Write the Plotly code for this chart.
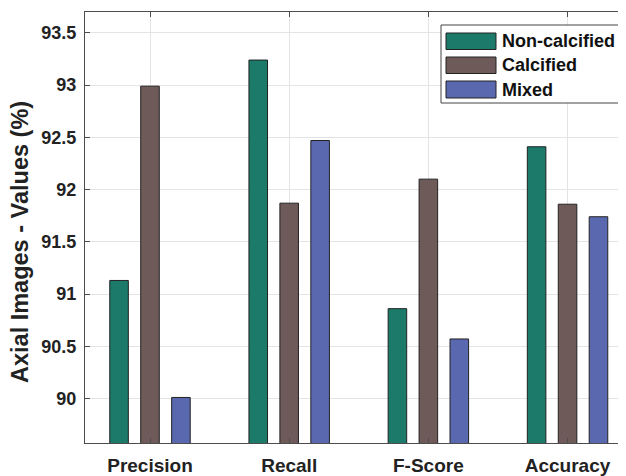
import plotly.graph_objects as go

categories = ["Precision", "Recall", "F-Score", "Accuracy"]
non_calcified = [91.13, 93.24, 90.86, 92.41]
calcified = [92.99, 91.87, 92.10, 91.86]
mixed = [90.01, 92.47, 90.57, 91.74]
series_names = ["Non-calcified", "Calcified", "Mixed"]
series_values = [non_calcified, calcified, mixed]
colors = ["#1b7a6a", "#6e5a58", "#5a68b0"]
y_ticks = [90, 90.5, 91, 91.5, 92, 92.5, 93, 93.5]
y_tick_labels = ["90", "90.5", "91", "91.5", "92", "92.5", "93", "93.5"]

# page is 626x476; the html body has an 8px margin
OFF = 8
W, H = 626 - OFF, 476 - OFF
# plot area in page pixels: x 85..626, y 12..443
L, R, T, B = 85 - OFF, 0, 12 - OFF, 476 - 443
PW, PH = W - L - R, H - T - B


def px(x):  # page pixel -> paper
    return (x - OFF - L) / PW


def py(y):
    return (H - B - (y - OFF)) / PH


FONT = "Arial, Liberation Sans, Helvetica, sans-serif"

fig = go.Figure()
for name, vals, c in zip(series_names, series_values, colors):
    fig.add_trace(go.Bar(
        x=categories, y=vals, name=name,
        marker=dict(color=c, line=dict(color="#222222", width=1)),
        showlegend=False,
    ))

fig.update_layout(
    width=W, height=H,
    margin=dict(l=L, r=R, t=T, b=B, autoexpand=False),
    paper_bgcolor="white", plot_bgcolor="white",
    barmode="group", bargap=0.333, bargroupgap=0.4,
    font=dict(family=FONT, color="#222222"),
)
fig.update_xaxes(
    range=[-0.467, 3.42], showgrid=True, gridcolor="#e4e4e4", gridwidth=1,
    showline=True, linecolor="#4d4d4d", linewidth=1, mirror="ticks",
    ticks="inside", ticklen=5, tickcolor="#4d4d4d",
    tickfont=dict(size=19, family=FONT, weight="bold", color="#222222"),
    ticklabelstandoff=5, automargin=False,
)
fig.update_yaxes(
    range=[89.574, 93.70], tickmode="array", tickvals=y_ticks, ticktext=y_tick_labels,
    showgrid=True, gridcolor="#e4e4e4", gridwidth=1, zeroline=False,
    showline=True, linecolor="#4d4d4d", linewidth=1, mirror="ticks",
    ticks="inside", ticklen=5, tickcolor="#4d4d4d",
    tickfont=dict(size=18, family=FONT, weight="bold", color="#222222"),
    ticklabelstandoff=4, automargin=False,
)

# y-axis title
fig.add_annotation(
    text="Axial Images - Values (%)", textangle=-90,
    xref="paper", yref="paper", x=px(20), y=py(242),
    xanchor="center", yanchor="middle", showarrow=False,
    font=dict(size=23.5, family=FONT, weight="bold", color="#222222"),
)

# legend (drawn manually to match large swatches)
fig.add_shape(type="rect", xref="paper", yref="paper",
              x0=px(441), x1=px(619), y0=py(103), y1=py(25),
              line=dict(color="#444444", width=1), fillcolor="white", layer="above")
rows = [(33, 49.5), (57, 73.5), (81, 98)]
for (y0, y1), name, c in zip(rows, series_names, colors):
    fig.add_shape(type="rect", xref="paper", yref="paper",
                  x0=px(446), x1=px(496), y0=py(y1), y1=py(y0),
                  line=dict(color="#222222", width=1), fillcolor=c, layer="above")
    fig.add_annotation(text=name, xref="paper", yref="paper",
                       x=px(500), y=py((y0 + y1) / 2), xanchor="left", yanchor="middle",
                       showarrow=False,
                       font=dict(size=18, family=FONT, weight="bold", color="#111111"))

fig.write_html("out.html")
